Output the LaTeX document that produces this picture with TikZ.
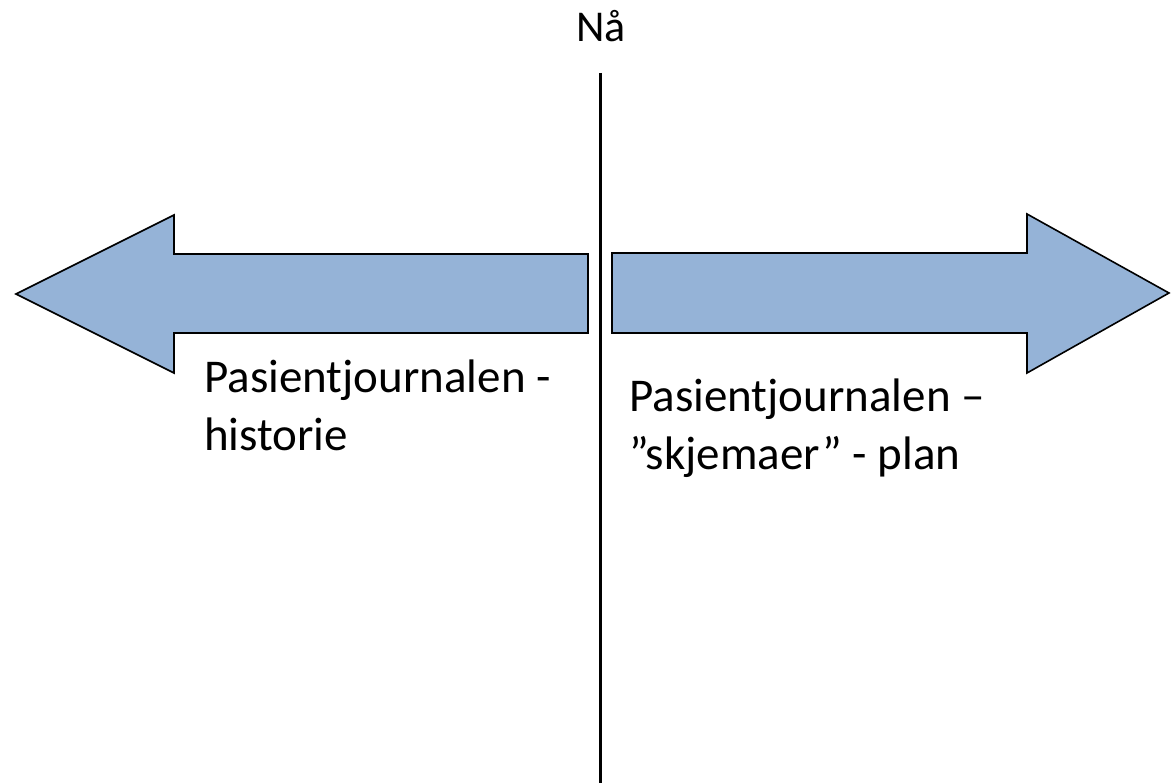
\documentclass[tikz,border=0pt]{standalone}
\usepackage{fontspec}
\setmainfont{Carlito}
\definecolor{arrowfill}{HTML}{95B3D7}
\begin{document}
\begin{tikzpicture}[x=1pt,y=-1pt,
  bigarrow/.style={draw=black,line width=1.6pt,fill=arrowfill,line join=miter},
  textfont/.style={font=\fontsize{47}{58}\selectfont},
  label/.style={textfont,inner sep=0pt,align=left,anchor=base west},
  divider/.style={draw=black,line width=3pt}]
\useasboundingbox (0,0) rectangle (1171,783);
% past: arrow pointing left
\draw[bigarrow] (16,294) -- (174,215) -- (174,254) -- (588,254) -- (588,333)
  -- (174,333) -- (174,373) -- cycle;
% future: arrow pointing right
\draw[bigarrow] (1169,293) -- (1027,214) -- (1027,253) -- (612,253) -- (612,333)
  -- (1027,333) -- (1027,373) -- cycle;
% the present
\coordinate (top) at (600.5,73);
\coordinate (bottom) at (600.5,783);
\draw[divider] (top) -- (bottom);
\node[font=\fontsize{44}{52}\selectfont,inner sep=0pt,anchor=base] (now) at (601,42) {Nå};
% anchors sit on the baseline of the last line
\node[label] (past) at (204,451) {Pasientjournalen -\\historie};
\node[label] (future) at (629,470) {Pasientjournalen –\\”skjemaer” - plan};
\end{tikzpicture}
\end{document}
